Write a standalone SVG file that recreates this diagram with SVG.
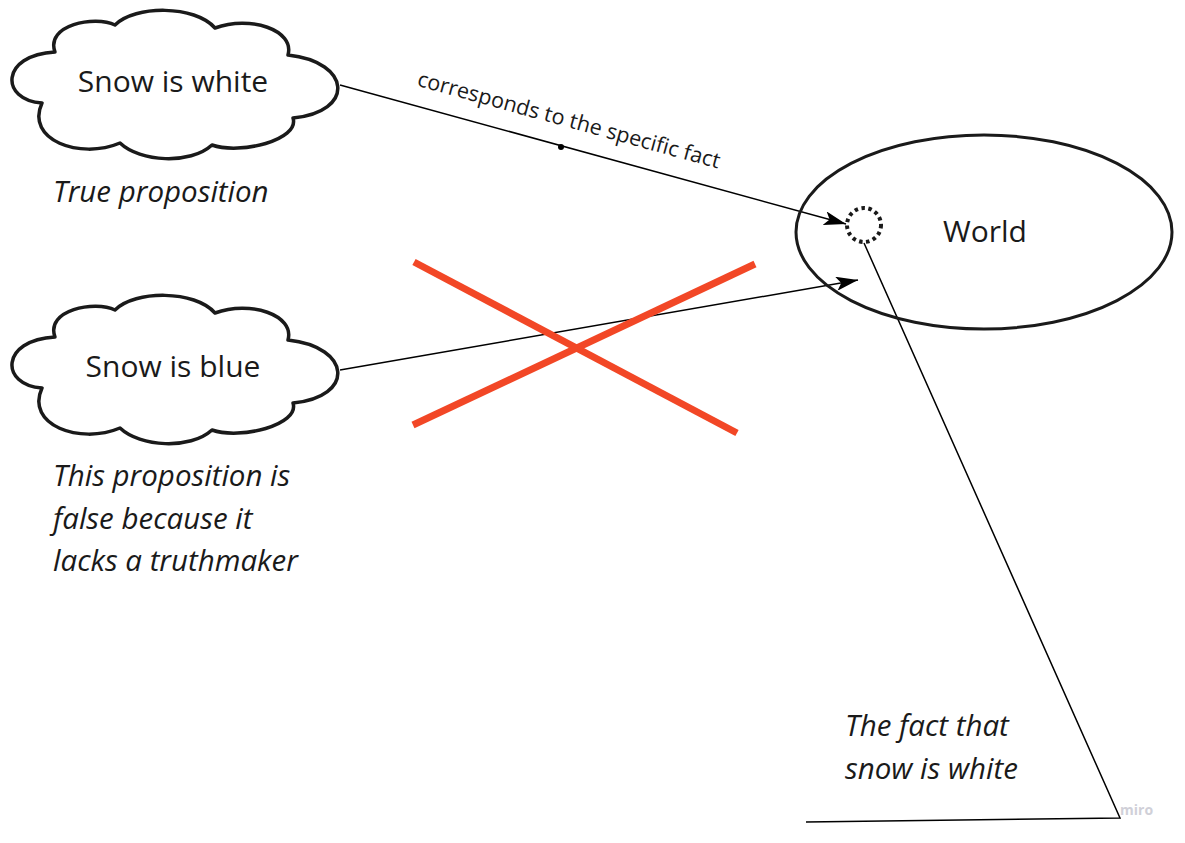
<svg xmlns="http://www.w3.org/2000/svg" width="1185" height="843" viewBox="0 0 1185 843">
<style>
.cloud{fill:#fff;stroke:#1a1a1a;stroke-width:3.5;stroke-linejoin:round}
.lbl{font-family:"Open Sans","Noto Sans","Liberation Sans",sans-serif;fill:#1a1a1a}
.it{font-family:"Open Sans","Noto Sans","Liberation Sans",sans-serif;font-style:italic;fill:#1a1a1a;font-size:29.5px}
.conn{stroke:#000;stroke-width:1.5;fill:none}
.cross{stroke:#F24726;stroke-width:7;stroke-linecap:butt}
</style>
<defs>
<marker id="arr" markerWidth="24" markerHeight="14" refX="22" refY="7" orient="auto" markerUnits="userSpaceOnUse">
<path d="M0,0 L22,7 L0,14 L5,7 Z" fill="#000"/>
</marker>
<path id="cloudShape" d="M 55 52 C 45 25, 95 15, 115 25 C 135 5, 195 5, 215 28 C 250 15, 295 30, 288 55 C 352 62, 355 112, 293 118 C 300 140, 240 155, 212 145 C 190 165, 140 162, 120 143 C 80 160, 25 140, 42 103 C 0 100, 0 55, 55 52 Z"/>
</defs>
<rect width="1185" height="843" fill="#fff"/>

<g id="connectors">
<line class="conn" x1="340" y1="85" x2="846" y2="224" marker-end="url(#arr)"/>
<circle cx="561" cy="147" r="3" fill="#000"/>
<text class="lbl" font-size="21.5" text-anchor="middle" transform="translate(567,127) rotate(15.4)">corresponds to the specific fact</text>
<line class="conn" x1="340" y1="370" x2="858" y2="280" marker-end="url(#arr)"/>
<polyline class="conn" points="864,243 1120,818 806,822"/>
</g>

<g id="cloud-white">
<use href="#cloudShape" class="cloud"/>
<text class="lbl" x="173" y="92" font-size="30" text-anchor="middle">Snow is white</text>
</g>
<g id="label-true">
<text class="it" x="53" y="202">True proposition</text>
</g>

<g id="cloud-blue">
<use href="#cloudShape" class="cloud" transform="translate(0,285)"/>
<text class="lbl" x="173" y="377" font-size="30" text-anchor="middle">Snow is blue</text>
</g>
<g id="label-false">
<text class="it" x="53" y="486">This proposition is</text>
<text class="it" x="53" y="529">false because it</text>
<text class="it" x="53" y="571">lacks a truthmaker</text>
</g>

<g id="cross">
<line class="cross" x1="414" y1="262" x2="737" y2="433"/>
<line class="cross" x1="413" y1="425" x2="755" y2="264"/>
</g>

<g id="world">
<ellipse cx="984" cy="232" rx="188" ry="97" fill="none" stroke="#1a1a1a" stroke-width="3"/>
<text class="lbl" x="985" y="242" font-size="30" text-anchor="middle">World</text>
</g>

<g id="fact">
<circle cx="864" cy="225" r="17" fill="none" stroke="#1a1a1a" stroke-width="4" stroke-dasharray="3.5 3.5"/>
</g>
<g id="label-fact">
<text class="it" x="845" y="736">The fact that</text>
<text class="it" x="845" y="779">snow is white</text>
</g>

<text x="1120" y="815" font-family="Open Sans,Liberation Sans,sans-serif" font-size="14" font-weight="bold" fill="#d0d0d8">miro</text>
</svg>
